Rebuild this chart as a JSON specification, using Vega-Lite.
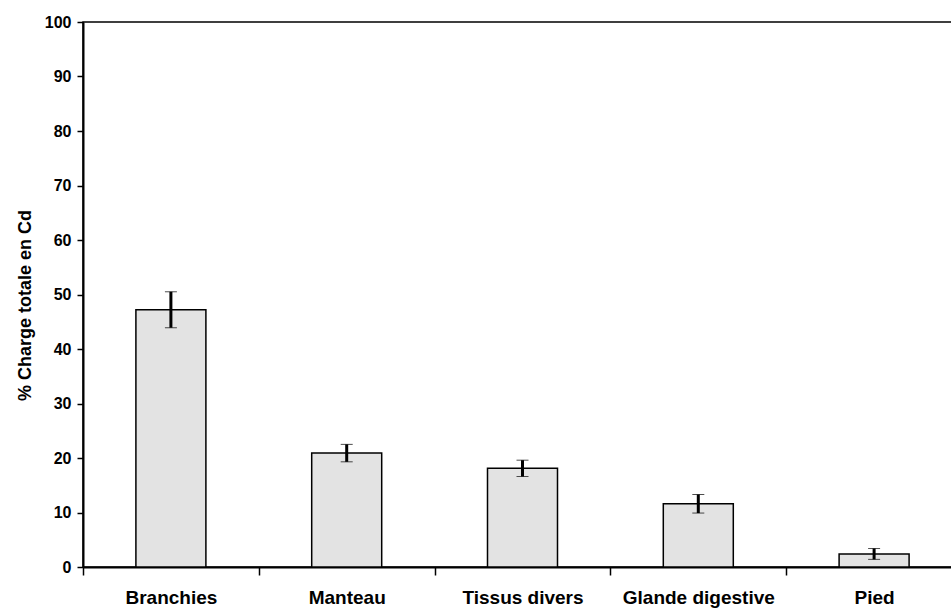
{
  "$schema": "https://vega.github.io/schema/vega-lite/v6.json",
  "autosize": "none",
  "padding": {"left": 83, "top": 22, "right": 0, "bottom": 49},
  "width": 879,
  "height": 545,
  "background": "white",
  "config": {
    "view": {"stroke": "black", "strokeWidth": 1.5},
    "font": "Liberation Sans"
  },
  "data": {
    "values": [
      {"organe": "Branchies", "valeur": 47.2, "err": 3.3},
      {"organe": "Manteau", "valeur": 20.9, "err": 1.6},
      {"organe": "Tissus divers", "valeur": 18.1, "err": 1.5},
      {"organe": "Glande digestive", "valeur": 11.6, "err": 1.7},
      {"organe": "Pied", "valeur": 2.4, "err": 1.0}
    ]
  },
  "encoding": {
    "x": {
      "field": "organe",
      "type": "nominal",
      "sort": null,
      "scale": {"paddingInner": 0, "paddingOuter": 0},
      "axis": {
        "title": null,
        "labelAngle": 0,
        "labelFont": "Liberation Sans",
        "labelFontWeight": "bold",
        "labelFontSize": 19,
        "labelColor": "black",
        "labelPadding": 13,
        "tickBand": "extent",
        "tickSize": 8,
        "tickColor": "black",
        "tickWidth": 1.5,
        "domainColor": "black",
        "domainWidth": 2
      }
    }
  },
  "layer": [
    {
      "mark": {"type": "bar", "size": 70, "fill": "#e3e3e3", "stroke": "black", "strokeWidth": 1.5},
      "encoding": {
        "y": {
          "field": "valeur",
          "type": "quantitative",
          "title": "% Charge totale en Cd",
          "scale": {"domain": [0, 100], "nice": false},
          "axis": {
            "titleFont": "Liberation Sans",
            "titleFontWeight": "bold",
            "titleFontSize": 18,
            "titleColor": "black",
            "titlePadding": 10,
            "titleY": 283,
            "values": [0, 10, 20, 30, 40, 50, 60, 70, 80, 90, 100],
            "grid": false,
            "labelFont": "Liberation Sans",
            "labelFontWeight": "bold",
            "labelFontSize": 16,
            "labelColor": "black",
            "labelPadding": 6,
            "tickSize": 6,
            "tickColor": "black",
            "tickWidth": 1.5,
            "domainColor": "black",
            "domainWidth": 2
          }
        }
      }
    },
    {
      "mark": {"type": "errorbar", "ticks": {"size": 12, "strokeWidth": 3, "color": "black"}, "rule": {"strokeWidth": 3, "color": "black"}},
      "encoding": {
        "y": {"field": "valeur", "type": "quantitative", "title": "% Charge totale en Cd"},
        "yError": {"field": "err"}
      }
    }
  ]
}
